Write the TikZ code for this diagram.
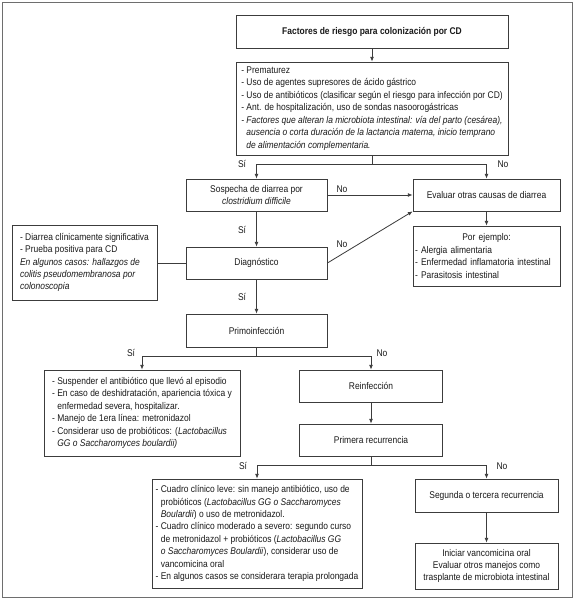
\documentclass[tikz,border=0pt]{standalone}
\usepackage{fontspec}
\setmainfont{Liberation Sans}[FakeStretch=0.87]
\usetikzlibrary{arrows.meta}
\definecolor{gristrazo}{RGB}{60,60,60}
\definecolor{grismarco}{RGB}{110,110,110}
\definecolor{textocolor}{RGB}{25,25,25}
\newcommand{\sangria}{\hphantom{- }}

\begin{document}
\begin{tikzpicture}[x=0.03cm,y=-0.03cm,
    caja/.style={draw=gristrazo, line width=0.7pt, inner xsep=0.06cm, inner ysep=0.05cm,
      font=\fontsize{8.3}{10.6}\selectfont, text=textocolor},
    cajaizq/.style={caja, align=left},
    cajacen/.style={caja, align=center},
    trazo/.style={draw=gristrazo, line width=0.7pt},
    flecha/.style={trazo, -{Latex[length=4pt,width=3.4pt]}},
    etiq/.style={font=\fontsize{8.3}{10}\selectfont, text=textocolor, inner sep=0pt}]
  \useasboundingbox (0,0) rectangle (576,601);
  \draw[grismarco, line width=0.8pt] (2,2) rectangle (572,597);
  % cajas
  \node[cajacen, minimum width=8.16cm, minimum height=0.99cm] (Titulo) at (372,31.5)
    {\textbf{Factores de riesgo para colonización por CD}};
  \node[cajaizq, minimum width=8.16cm, minimum height=2.79cm] (Riesgo) at (372,108.5)
    {- Prematurez\\
     - Uso de agentes supresores de ácido gástrico\\
     - Uso de antibióticos (clasificar según el riesgo para infección por CD)\\
     - Ant. de hospitalización, uso de sondas nasoorogástricas\\
     \textit{- Factores que alteran la microbiota intestinal: vía del parto (cesárea),}\\
     \sangria\textit{ausencia o corta duración de la lactancia materna, inicio temprano}\\
     \sangria\textit{de alimentación complementaria.}};
  \node[cajacen, minimum width=4.23cm, minimum height=0.96cm] (Sospecha) at (256.5,195)
    {Sospecha de diarrea por\\ \textit{clostridium difficile}};
  \node[cajacen, minimum width=4.41cm, minimum height=0.96cm] (Evaluar) at (486.5,195)
    {Evaluar otras causas de diarrea};
  \node[cajacen, minimum width=4.23cm, minimum height=0.96cm] (Diag) at (256.5,263)
    {Diagnóstico};
  \node[cajaizq, minimum width=4.35cm, minimum height=2.25cm] (Criterios) at (84.5,262.5)
    {- Diarrea clínicamente significativa\\
     - Prueba positiva para CD\\
     \textit{En algunos casos: hallazgos de}\\
     \textit{colitis pseudomembranosa por}\\
     \textit{colonoscopia}};
  \node[cajaizq, text width=4.29cm, minimum height=1.8cm] (Ejemplo) at (486.5,256)
    {{\centering Por ejemplo:\par}
     - Alergia alimentaria\\
     - Enfermedad inflamatoria intestinal\\
     - Parasitosis intestinal};
  \node[cajacen, minimum width=4.23cm, minimum height=0.99cm] (Primo) at (256.5,330.5)
    {Primoinfección};
  \node[cajaizq, minimum width=5.88cm, minimum height=2.58cm] (Trat) at (142,413)
    {- Suspender el antibiótico que llevó al episodio\\
     - En caso de deshidratación, apariencia tóxica y\\
     \sangria enfermedad severa, hospitalizar.\\
     - Manejo de 1era línea: metronidazol\\
     - Considerar uso de probióticos: (\textit{Lactobacillus}\\
     \sangria\textit{GG o Saccharomyces boulardii)}};
  \node[cajacen, minimum width=4.29cm, minimum height=0.96cm] (Reinf) at (371,386)
    {Reinfección};
  \node[cajacen, minimum width=4.29cm, minimum height=0.96cm] (Recur) at (371,440)
    {Primera recurrencia};
  \node[cajaizq, minimum width=6.3cm, minimum height=3.27cm] (Cuadro) at (257,533.5)
    {- Cuadro clínico leve: sin manejo antibiótico, uso de\\
     \sangria probióticos (\textit{Lactobacillus GG o Saccharomyces}\\
     \sangria\textit{Boulardii}) o uso de metronidazol.\\
     - Cuadro clínico moderado a severo: segundo curso\\
     \sangria de metronidazol + probióticos (\textit{Lactobacillus GG}\\
     \sangria\textit{o Saccharomyces Boulardii}), considerar uso de\\
     \sangria vancomicina oral\\
     - En algunos casos se considerara terapia prolongada};
  \node[cajacen, minimum width=4.29cm, minimum height=0.99cm] (Segunda) at (486.5,495.5)
    {Segunda o tercera recurrencia};
  \node[cajacen, minimum width=4.29cm, minimum height=1.38cm] (Vanco) at (486.5,566)
    {Iniciar vancomicina oral\\ Evaluar otros manejos como\\ trasplante de microbiota intestinal};
  % conectores
  \draw[flecha] (Titulo) -- (Riesgo);
  \draw[trazo] (Riesgo.south) -- ++(0,9) coordinate (R1);
  \draw[flecha] (R1) -| (Sospecha.north);
  \draw[flecha] (R1) -| (Evaluar.north);
  \draw[flecha] (Sospecha) -- (Evaluar);
  \draw[flecha] (Sospecha) -- (Diag);
  \draw[flecha] (Diag.east) -- (Evaluar.south west);
  \draw[trazo] (Diag.west) -- (Diag.west -| Criterios.east);
  \draw[flecha] (Evaluar) -- (Ejemplo);
  \draw[flecha] (Diag) -- (Primo);
  \draw[trazo] (Primo.south) -- ++(0,9) coordinate (P1);
  \draw[flecha] (P1) -| (Trat.north);
  \draw[flecha] (P1) -| (Reinf.north);
  \draw[flecha] (Reinf) -- (Recur);
  \draw[trazo] (Recur.south) -- ++(0,9) coordinate (Q1);
  \draw[flecha] (Q1) -| (Cuadro.north);
  \draw[flecha] (Q1) -| (Segunda.north);
  \draw[flecha] (Segunda) -- (Vanco);
  % etiquetas
  \node[etiq] (SiA) at (242,164) {Sí};
  \node[etiq] (NoA) at (503,164) {No};
  \node[etiq] (NoB) at (342,189.5) {No};
  \node[etiq] (SiB) at (242,229.5) {Sí};
  \node[etiq] (NoC) at (342,244.5) {No};
  \node[etiq] (SiC) at (242,297) {Sí};
  \node[etiq] (SiD) at (131,353) {Sí};
  \node[etiq] (NoD) at (382,353) {No};
  \node[etiq] (SiE) at (243,466) {Sí};
  \node[etiq] (NoE) at (502,466) {No};
\end{tikzpicture}
\end{document}
